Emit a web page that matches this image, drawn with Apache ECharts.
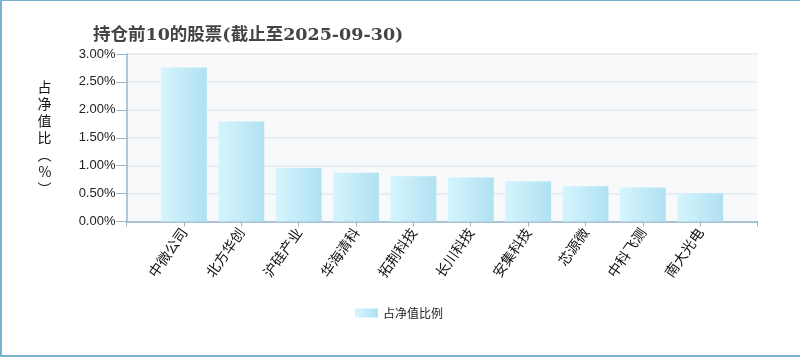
<!DOCTYPE html>
<html>
<head>
<meta charset="utf-8">
<script src="https://cdn.jsdelivr.net/npm/echarts@6/dist/echarts.min.js"></script>
<style>
html,body{margin:0;padding:0;background:#fff;}
#wrap{width:800px;height:357px;box-sizing:border-box;border-top:1px solid #7ab3d0;border-left:2px solid #7ab3d0;border-bottom:2px solid #7ab3d0;position:relative;}
#chart{position:absolute;left:-2px;top:-1px;width:800px;height:357px;}
</style>
</head>
<body>
<div id="wrap"><div id="chart"></div></div>
<script>
var titleText = '持仓前10的股票(截止至2025-09-30)';
var categories = ['中微公司','北方华创','沪硅产业','华海清科','拓荆科技','长川科技','安集科技','芯源微','中科飞测','南大光电'];
var values = [2.76, 1.79, 0.96, 0.875, 0.81, 0.79, 0.72, 0.63, 0.61, 0.505];
var yTicks = [0, 0.5, 1, 1.5, 2, 2.5, 3];
var seriesName = '占净值比例';
var yName = '占\n净\n值\n比\n︵\n%\n︶';

var axisData = [''].concat(categories).concat(['']);
var seriesData = [null].concat(values).concat([null]);

var grad = new echarts.graphic.LinearGradient(0,0,1,0,[{offset:0,color:'#d6f5fd'},{offset:1,color:'#b0e1f2'}]);

var chart = echarts.init(document.getElementById('chart'));
chart.setOption({
  animation:false,
  title:{text:titleText,left:88,top:22,textStyle:{fontFamily:'"DejaVu Serif","Noto Sans CJK SC"',fontSize:17.5,fontWeight:'bold',color:'#444'}},
  grid:{left:126.5,right:42.5,top:54,bottom:135.5,show:true,backgroundColor:'#f7f9fb',borderWidth:0},
  legend:{bottom:33,left:350,itemWidth:23,itemHeight:9,itemGap:5,textStyle:{fontSize:12,color:'#222',fontFamily:'"Noto Sans CJK SC"'},data:[{name:seriesName,icon:'rect'}]},
  xAxis:{type:'category',data:axisData,boundaryGap:false,
    axisLine:{lineStyle:{color:'#94b6cc',width:1.5}},
    axisTick:{length:5,lineStyle:{color:'#94b6cc'}},
    axisLabel:{rotate:55,fontSize:14,color:'#111',margin:8,interval:0,fontFamily:'"Noto Sans CJK SC"'},
    splitLine:{show:false}},
  yAxis:{type:'value',min:yTicks[0],max:yTicks[yTicks.length-1],interval:0.5,
    name:yName,nameLocation:'middle',nameRotate:0,nameGap:75,
    nameTextStyle:{fontSize:14,color:'#111',lineHeight:17,fontFamily:'"Noto Sans CJK SC"'},
    axisLine:{show:true,lineStyle:{color:'#94b6cc',width:1.5}},
    axisTick:{show:true,length:10,lineStyle:{color:'#94b6cc'}},
    axisLabel:{fontSize:13,color:'#222',margin:11,fontFamily:'"Liberation Sans",Arial',formatter:function(v){return v.toFixed(2)+'%';}},
    splitLine:{lineStyle:{color:'#e3e8ef',width:1.5}}},
  series:[{name:seriesName,type:'bar',data:seriesData,barWidth:46,itemStyle:{color:grad}}]
});
</script>
</body>
</html>
